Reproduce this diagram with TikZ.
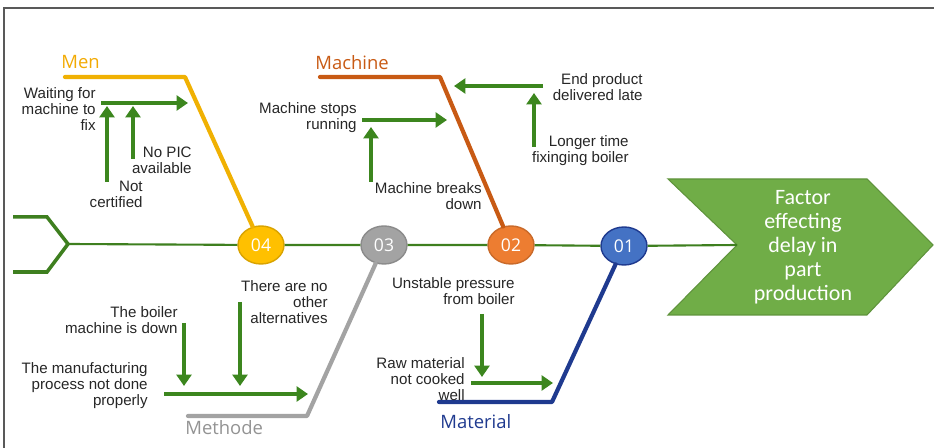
\documentclass[tikz,border=0pt]{standalone}
\usepackage{fontspec}
\setmainfont{Liberation Sans}
\newfontfamily\bonefont{Open Sans}
\newfontfamily\headfont{Carlito}
\usetikzlibrary{arrows.meta,shapes.geometric}

\definecolor{spinegreen}{HTML}{3E7F1F}
\definecolor{causegreen}{HTML}{3C861E}
\definecolor{menyellow}{HTML}{F0B103}
\definecolor{machorange}{HTML}{C85A14}
\definecolor{methgrey}{HTML}{A3A3A3}
\definecolor{matblue}{HTML}{1F3A8F}
\definecolor{effectgreen}{HTML}{70AD47}
\definecolor{fourfill}{HTML}{FFC000}
\definecolor{twofill}{HTML}{ED7D31}
\definecolor{onefill}{HTML}{4472C4}

\begin{document}
\begin{tikzpicture}[x=0.02cm,y=-0.02cm,
		spine/.style={spinegreen,line width=1.2pt},
		bone/.style={line width=2.4pt,line cap=round,line join=round},
		cause/.style={causegreen,line width=2pt,-{Triangle[width=8.5pt,length=6.5pt]}},
		num/.style={ellipse,minimum width=0.92cm,minimum height=0.76cm,inner sep=0pt,
			line width=0.8pt,text=white,font=\bonefont\fontsize{10}{12}\selectfont},
		reason/.style={inner sep=0pt,align=right,text=black!85,
			font=\fontsize{8.6}{9.1}\selectfont},
		group/.style={inner sep=0pt,anchor=west,font=\bonefont\fontsize{10.5}{12}\selectfont}]
	\useasboundingbox (0,0) rectangle (934,448);
	\draw[black!65,line width=0.8pt] (4,448) -- (4,8) -- (934,8);

	% head of the fish
	\coordinate (notch) at (737,245);
	\filldraw[fill=effectgreen,draw=effectgreen!85!black,line width=0.6pt]
		(668,179) -- (867,179) -- (933,245) -- (867,315) -- (668,315) -- (notch) -- cycle;
	\node[align=center,text=white,font=\headfont\fontsize{12.5}{13.6}\selectfont] (effect) at (803,247)
		{Factor\\effecting\\delay in\\part\\production};

	% tail and spine
	\coordinate (tailA) at (13,217);
	\coordinate (tailB) at (47,217);
	\coordinate (tail) at (68,244);
	\coordinate (tailC) at (47,272);
	\coordinate (tailD) at (13,272);
	\draw[spinegreen,line width=2pt,line join=miter] (tailA) -- (tailB) -- (tail) -- (tailC) -- (tailD);

	\node[num,fill=fourfill,draw=fourfill!85!black] (c4) at (261,245) {04};
	\node[num,fill=methgrey,draw=methgrey!85!black] (c3) at (384,245) {03};
	\node[num,fill=twofill,draw=twofill!85!black] (c2) at (511,245) {02};
	\node[num,fill=onefill,draw=matblue] (c1) at (624,246) {01};
	\draw[spine] (tail) -- (c4) -- (c3) -- (c2) -- (c1) -- (notch);

	% bones
	\coordinate (menL) at (65,77);
	\coordinate (menK) at (185,77);
	\coordinate (machL) at (320,77);
	\coordinate (machK) at (440,77);
	\coordinate (methL) at (188,416);
	\coordinate (methK) at (307,416);
	\coordinate (matL) at (439,402);
	\coordinate (matK) at (552,402);
	\draw[bone,menyellow] (menL) -- (menK) -- (c4);
	\draw[bone,machorange] (machL) -- (machK) -- (c2);
	\draw[bone,methgrey] (methL) -- (methK) -- (c3);
	\draw[bone,matblue] (matL) -- (matK) -- (c1);

	\node[group,text=menyellow!85!orange] (men) at (61,62) {Men};
	\node[group,text=machorange] (machine) at (315,63) {Machine};
	\node[group,text=methgrey!90!black] (methode) at (185,428) {Methode};
	\node[group,text=matblue] (material) at (440,422) {Material};

	% Men
	\node[reason,anchor=east] (waiting) at (96,109) {Waiting for\\machine to\\fix};
	\node[reason,anchor=east] (nopic) at (192,160) {No PIC\\available};
	\node[reason,anchor=east] (notcert) at (143,194) {Not\\certified};
	\coordinate (waitS) at (101,103);
	\coordinate (waitE) at (188,103);
	\coordinate (certS) at (107,182);
	\coordinate (certE) at (107,106);
	\coordinate (picS) at (133,159);
	\coordinate (picE) at (133,106);
	\draw[cause] (waitS) -- (waitE);
	\draw[cause] (certS) -- (certE);
	\draw[cause] (picS) -- (picE);

	% Machine
	\node[reason,anchor=east] (stops) at (357,118) {Machine stops\\running};
	\node[reason,anchor=east] (breaks) at (482,196) {Machine breaks\\down};
	\node[reason,anchor=east] (late) at (643,87) {End product\\delivered late};
	\node[reason,anchor=east] (longer) at (629,151) {Longer time\\fixinging boiler};
	\coordinate (stopS) at (362,120);
	\coordinate (stopE) at (447,120);
	\coordinate (breakS) at (371,182);
	\coordinate (breakE) at (371,127);
	\coordinate (lateS) at (543,86);
	\coordinate (lateE) at (454,86);
	\coordinate (longS) at (534,147);
	\coordinate (longE) at (534,93);
	\draw[cause] (stopS) -- (stopE);
	\draw[cause] (breakS) -- (breakE);
	\draw[cause] (lateS) -- (lateE);
	\draw[cause] (longS) -- (longE);

	% Methode
	\node[reason,anchor=east] (noalt) at (328,302) {There are no\\other\\alternatives};
	\node[reason,anchor=east] (boilerdown) at (178,320) {The boiler\\machine is down};
	\node[reason,anchor=east] (process) at (148,386) {The manufacturing\\process not done\\properly};
	\coordinate (downS) at (184,323);
	\coordinate (downE) at (184,386);
	\coordinate (altS) at (240,302);
	\coordinate (altE) at (240,386);
	\coordinate (procS) at (164,394);
	\coordinate (procE) at (308,394);
	\draw[cause] (downS) -- (downE);
	\draw[cause] (altS) -- (altE);
	\draw[cause] (procS) -- (procE);

	% Material
	\node[reason,anchor=east] (pressure) at (515,291) {Unstable pressure\\from boiler};
	\node[reason,anchor=east] (raw) at (465,379) {Raw material\\not cooked\\well};
	\coordinate (presS) at (482,314);
	\coordinate (presE) at (482,377);
	\coordinate (rawS) at (471,383);
	\coordinate (rawE) at (553,383);
	\draw[cause] (presS) -- (presE);
	\draw[cause] (rawS) -- (rawE);
\end{tikzpicture}
\end{document}
